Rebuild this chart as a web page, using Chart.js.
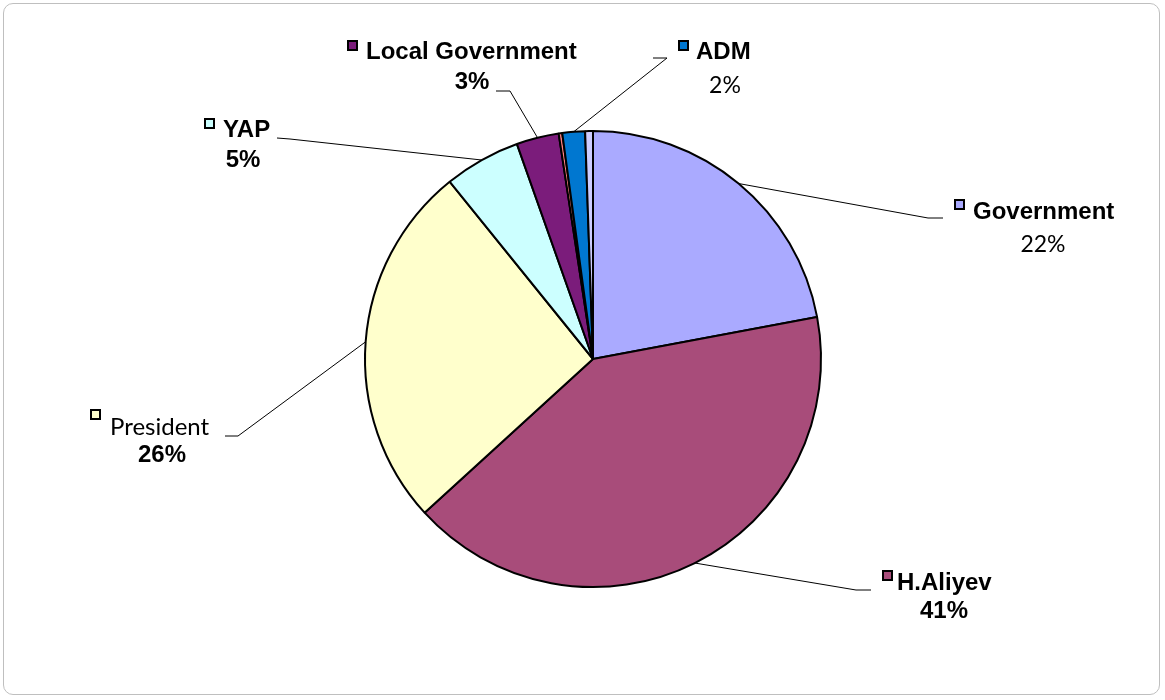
<!DOCTYPE html>
<html>
<head>
<meta charset="utf-8">
<script src="https://cdn.jsdelivr.net/npm/chart.js@4"></script>
<style>
  html, body { margin: 0; padding: 0; background: #fff; }
  #wrap { position: relative; width: 1165px; height: 700px; }
  #frame { position: absolute; left: 3px; top: 3px; width: 1157px; height: 692px;
           border: 1px solid #bfbfbf; border-radius: 10px; box-sizing: border-box; }
  canvas { position: absolute; left: 0; top: 0; }
</style>
</head>
<body>
<div id="wrap">
  <div id="frame"></div>
  <canvas id="pie" width="1165" height="700"></canvas>
</div>
<script>
// Pie data (clockwise from 12 o'clock)
const categories = ['Government', 'H.Aliyev', 'President', 'YAP', 'Local Government', '', 'ADM', ''];
const shares = [22.0, 41.1, 25.9, 5.4, 3.0, 0.25, 1.6, 0.55];
const sliceColors = ['#AAAAFF', '#A84C7A', '#FFFFCC', '#CCFFFF', '#7B1C7B', '#FF8080', '#0077D0', '#CCCCFF'];

const arial = '"Liberation Sans", Arial, sans-serif';
const calibri = 'Lato, "Open Sans", sans-serif';

// label layout: elbow + end of leader line, marker, name and percent placement
const labelLayout = {
  0: { elbow: [928, 218], end: [943, 218], box: [955, 200], name: [973, 212], pct: [1043, 245], nameBold: true, pctBold: false },
  1: { elbow: [856, 590], end: [871, 590], box: [883, 571], name: [897, 583], pct: [944, 611], nameBold: true, pctBold: true },
  2: { elbow: [238, 436], end: [225, 436], box: [91, 410], name: [110, 427], pct: [162, 455], nameBold: false, pctBold: true },
  3: { elbow: [290, 139], end: [277, 138], box: [205, 119], name: [223, 130], pct: [243, 160], nameBold: true, pctBold: true },
  4: { elbow: [510, 91], end: [496, 91], box: [348, 41], name: [366, 52], pct: [472, 82], nameBold: true, pctBold: true },
  6: { elbow: [667, 58], end: [653, 58], box: [679, 41], name: [696, 52], pct: [725, 86], nameBold: true, pctBold: false }
};

const labelPlugin = {
  id: 'pieLabels',
  afterDraw(chart) {
    const ctx = chart.ctx;
    const meta = chart.getDatasetMeta(0);
    const total = shares.reduce((a, b) => a + b, 0);
    Object.keys(labelLayout).forEach(k => {
      const i = +k;
      const L = labelLayout[i];
      const arc = meta.data[i];
      const mid = (arc.startAngle + arc.endAngle) / 2;
      const px = arc.x + Math.cos(mid) * arc.outerRadius;
      const py = arc.y + Math.sin(mid) * arc.outerRadius;
      ctx.save();
      ctx.strokeStyle = '#000';
      ctx.lineWidth = 1;
      ctx.beginPath();
      ctx.moveTo(px, py);
      ctx.lineTo(L.elbow[0], L.elbow[1]);
      ctx.lineTo(L.end[0], L.end[1]);
      ctx.stroke();
      // marker
      ctx.fillStyle = sliceColors[i];
      ctx.fillRect(L.box[0], L.box[1], 9, 9);
      ctx.lineWidth = 2;
      ctx.strokeRect(L.box[0], L.box[1], 9, 9);
      // texts
      ctx.fillStyle = '#000';
      ctx.textBaseline = 'middle';
      ctx.textAlign = 'left';
      ctx.font = L.nameBold ? 'bold 24px ' + arial : '24px ' + calibri;
      ctx.fillText(categories[i], L.name[0], L.name[1]);
      ctx.textAlign = 'center';
      ctx.font = L.pctBold ? 'bold 24px ' + arial : '23px ' + calibri;
      ctx.fillText(Math.round(shares[i] / total * 100) + '%', L.pct[0], L.pct[1]);
      ctx.restore();
    });
  }
};

new Chart(document.getElementById('pie').getContext('2d'), {
  type: 'pie',
  data: {
    labels: categories,
    datasets: [{
      data: shares,
      backgroundColor: sliceColors,
      borderColor: '#000',
      borderWidth: 2
    }]
  },
  options: {
    responsive: false,
    animation: false,
    layout: { padding: { top: 130, bottom: 112, left: 299, right: 278 } },
    plugins: {
      legend: { display: false },
      tooltip: { enabled: false }
    }
  },
  plugins: [labelPlugin]
});
</script>
</body>
</html>
